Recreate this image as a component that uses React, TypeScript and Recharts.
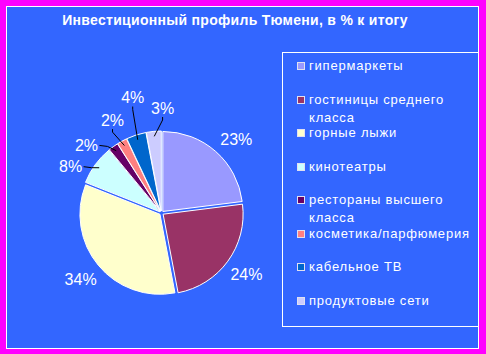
import React from "react";
import { PieChart, Pie, Cell, Legend, Sector } from "recharts";

const categories = [
  "гипермаркеты",
  "гостиницы среднего класса",
  "горные лыжи",
  "кинотеатры",
  "рестораны высшего класса",
  "косметика/парфюмерия",
  "кабельное ТВ",
  "продуктовые сети",
];
const shares = [23, 24, 34, 8, 2, 2, 4, 3];
const colors = ["#9999FF", "#993366", "#FFFFCC", "#CCFFFF", "#660066", "#FF8080", "#0066CC", "#CCCCFF"];
const title = "Инвестиционный профиль Тюмени, в % к итогу";

const data = categories.map((name, i) => ({ name, value: shares[i] }));

const RAD = Math.PI / 180;
const FONT = "'Liberation Sans', Arial, sans-serif";

// label nudges (angle, extra radius) so crowded labels sit like Excel puts them
const angleNudge: Record<number, number> = { 0: -4, 3: 9, 4: 12, 5: -1, 6: -4, 7: -6 };
const radiusNudge: Record<number, number> = { 3: -3, 4: -4, 6: 14 };

function explodedShape(props: any) {
  const { cx, cy, midAngle, innerRadius, outerRadius, startAngle, endAngle, fill } = props;
  const d = 2;
  const ox = cx + d * Math.cos(-midAngle * RAD);
  const oy = cy + d * Math.sin(-midAngle * RAD);
  return (
    <Sector
      cx={ox}
      cy={oy}
      innerRadius={innerRadius}
      outerRadius={outerRadius}
      startAngle={startAngle}
      endAngle={endAngle}
      fill={fill}
      stroke="#FFFFFF"
      strokeWidth={1}
    />
  );
}

function renderLabel(props: any) {
  const { cx, cy, midAngle, outerRadius, value, index } = props;
  const ang = midAngle + (angleNudge[index] || 0);
  const r = outerRadius + 25 + (radiusNudge[index] || 0);
  const x = cx + r * Math.cos(-ang * RAD);
  const y = cy + r * Math.sin(-ang * RAD);
  const small = value < 10;
  const ex = cx + (outerRadius - 3) * Math.cos(-midAngle * RAD);
  const ey = cy + (outerRadius - 3) * Math.sin(-midAngle * RAD);
  let pts = "";
  if (small) {
    if (y < cy - outerRadius) {
      // labels above the pie: short drop, then to the slice
      pts = `${x},${y + 9} ${x},${y + 12} ${ex},${ey}`;
    } else {
      // labels on the left: horizontal tick, then to the slice
      pts = `${x + 13},${y} ${x + 21},${y + 1} ${ex},${ey}`;
    }
  }
  return (
    <g>
      {small && <polyline points={pts} stroke="#000000" fill="none" strokeWidth={1} />}
      <text
        x={x}
        y={y}
        fill="#FFFFFF"
        fontFamily={FONT}
        fontSize={16}
        textAnchor="middle"
        dominantBaseline="central"
      >
        {`${value}%`}
      </text>
    </g>
  );
}

function LegendBox() {
  return (
    <div style={{ position: "relative", width: 197, height: 275, border: "1px solid #FFFFFF", boxSizing: "border-box" }}>
      {categories.map((name, i) => (
        <div
          key={name}
          style={{ position: "absolute", left: 14, top: 4 + i * 33.5, display: "flex", alignItems: "flex-start" }}
        >
          <div
            style={{
              width: 8,
              height: 8,
              marginTop: 5,
              background: colors[i],
              border: "1px solid #E0E0F0",
              boxSizing: "border-box",
              flex: "none",
            }}
          />
          <div
            style={{
              marginLeft: 4,
              width: 164,
              color: "#FFFFFF",
              fontFamily: FONT,
              fontSize: 13,
              lineHeight: "18px",
              letterSpacing: 0.8,
            }}
          >
            {name}
          </div>
        </div>
      ))}
    </div>
  );
}

export default function App() {
  return (
    <div style={{ position: "absolute", left: 0, top: 0, width: 486, height: 354, background: "#FF00FF" }}>
      <div
        style={{
          position: "absolute",
          left: 6,
          top: 6,
          width: 473,
          height: 343,
          background: "#3366FF",
          border: "1px solid #FFFFFF",
          boxSizing: "border-box",
        }}
      />
      <div
        style={{
          position: "absolute",
          left: 0,
          top: 12,
          width: 470,
          textAlign: "center",
          color: "#FFFFFF",
          fontFamily: FONT,
          fontWeight: "bold",
          fontSize: 14,
          letterSpacing: 0.3,
        }}
      >
        {title}
      </div>
      <div style={{ position: "absolute", left: 0, top: 0 }}>
        <PieChart width={486} height={354}>
          <Pie
            data={data}
            dataKey="value"
            nameKey="name"
            cx={156.5}
            cy={208}
            outerRadius={80}
            startAngle={90}
            endAngle={-270}
            stroke="#FFFFFF"
            strokeWidth={1}
            shape={explodedShape}
            label={renderLabel}
            labelLine={false}
            isAnimationActive={false}
          >
            {data.map((d, i) => (
              <Cell key={d.name} fill={colors[i]} />
            ))}
          </Pie>
          <Legend
            content={<LegendBox />}
            wrapperStyle={{ position: "absolute", left: 282, top: 52, width: 197, height: 275 }}
          />
        </PieChart>
      </div>
    </div>
  );
}
